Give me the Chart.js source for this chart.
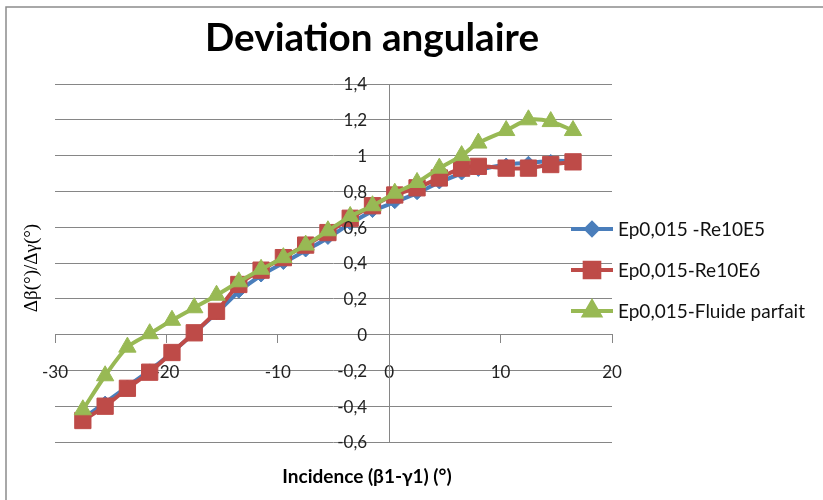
<!DOCTYPE html>
<html>
<head>
<meta charset="utf-8">
<script src="https://cdn.jsdelivr.net/npm/chart.js@4.4.1/dist/chart.umd.min.js"></script>
<style>
  html, body { margin: 0; padding: 0; background: #fff; }
  #wrap { position: relative; width: 823px; height: 500px; }
</style>
</head>
<body>
<div id="wrap"><canvas id="chart" width="823" height="500"></canvas></div>
<script>
// valeurs
const incidence = [-27.5, -25.5, -23.5, -21.5, -19.5, -17.5, -15.5, -13.5, -11.5, -9.5, -7.5, -5.5, -3.5, -1.5, 0.5, 2.5, 4.5, 6.5, 8, 10.5, 12.5, 14.5, 16.5];
const re10e5 = [-0.47, -0.38, -0.29, -0.20, -0.10, 0.01, 0.12, 0.24, 0.33, 0.40, 0.47, 0.54, 0.62, 0.69, 0.74, 0.79, 0.85, 0.90, 0.92, 0.95, 0.96, 0.97, 0.97];
const re10e6 = [-0.48, -0.40, -0.30, -0.21, -0.10, 0.01, 0.13, 0.28, 0.36, 0.43, 0.50, 0.57, 0.65, 0.72, 0.78, 0.82, 0.875, 0.93, 0.94, 0.93, 0.93, 0.95, 0.965];
const fluideParfait = [-0.42, -0.23, -0.07, 0.005, 0.08, 0.15, 0.22, 0.295, 0.365, 0.43, 0.50, 0.58, 0.66, 0.72, 0.79, 0.85, 0.93, 1.00, 1.07, 1.14, 1.20, 1.19, 1.14];
const seriesNames = ['Ep0,015 -Re10E5', 'Ep0,015-Re10E6', 'Ep0,015-Fluide parfait'];
const xRange = [-30, 20];
const yRange = [-0.6, 1.4];

const BLUE = '#4a7ebb', RED = '#be4b48', GREEN = '#98b954';
const GRID = '#868686';
const fmt = v => String(Math.round(v * 10) / 10).replace('.', ',');

const toPoints = arr => incidence.map((x, i) => ({ x: x, y: arr[i] }));

const series = [
    { label: seriesNames[0], data: toPoints(re10e5), color: BLUE, marker: 'rectRot', radius: 6.5, order: 3 },
    { label: seriesNames[1], data: toPoints(re10e6), color: RED, marker: 'rect', radius: 11.5, order: 2 },
    { label: seriesNames[2], data: toPoints(fluideParfait), color: GREEN, marker: 'triangle', radius: 10, order: 1 }
];

// titre, étiquettes de l'axe y, titres d'axes, légende et cadre
const decorPlugin = {
    id: 'decor',
    afterDraw(chart) {
        const ctx = chart.ctx;
        const ys = chart.scales.y, xs = chart.scales.x;
        ctx.save();
        ctx.strokeStyle = '#8c8c8c';
        ctx.lineWidth = 1.5;
        ctx.beginPath();
        ctx.moveTo(830, 7); ctx.lineTo(6, 7); ctx.lineTo(6, 505);
        ctx.stroke();

        // étiquettes y à gauche de l'axe placé en x = 0
        const x0 = xs.getPixelForValue(0);
        ctx.fillStyle = '#222';
        ctx.font = '17px Lato';
        ctx.textAlign = 'right';
        ctx.textBaseline = 'middle';
        ys.ticks.forEach(t => ctx.fillText(fmt(t.value), x0 - 22, ys.getPixelForValue(t.value) + 1));

        ctx.fillStyle = '#000';
        ctx.textAlign = 'center';
        ctx.font = 'bold 39px Lato';
        ctx.fillText('Deviation angulaire', 372, 38, 334);

        ctx.font = 'bold 19px Lato';
        ctx.fillText('Incidence (\u03b21-\u03b31) (\u00b0)', 367, 477, 190);

        ctx.save();
        ctx.translate(32, 268);
        ctx.rotate(-Math.PI / 2);
        ctx.font = '19px "Liberation Serif"';
        ctx.fillText('\u0394\u03b2(\u00b0)/\u0394\u03b3(\u00b0)', 0, 0);
        ctx.restore();

        const rows = [229, 270, 311];
        series.forEach((s, i) => {
            const y = rows[i];
            ctx.strokeStyle = s.color;
            ctx.lineWidth = 4;
            ctx.beginPath();
            ctx.moveTo(571, y); ctx.lineTo(613, y);
            ctx.stroke();
            ctx.fillStyle = s.color;
            ctx.strokeStyle = s.color;
            Chart.helpers.drawPoint(ctx, { pointStyle: s.marker, radius: s.radius * 0.9, rotation: 0, borderWidth: 1 }, 592, y);
            ctx.fillStyle = '#111';
            ctx.textAlign = 'left';
            ctx.font = '19px Lato';
            ctx.fillText(s.label, 618, y + 1);
        });
        ctx.restore();
    }
};

new Chart(document.getElementById('chart'), {
    type: 'line',
    data: {
        datasets: series.map(s => ({
            label: s.label,
            data: s.data,
            borderColor: s.color,
            backgroundColor: s.color,
            borderWidth: 4,
            pointStyle: s.marker,
            pointRadius: s.radius,
            pointBorderWidth: 1,
            pointBorderColor: s.color,
            tension: 0.3,
            fill: false,
            order: s.order
        }))
    },
    options: {
        responsive: false,
        animation: false,
        layout: { padding: { left: 55, right: 211, top: 84, bottom: 58 } },
        plugins: { legend: { display: false }, title: { display: false }, tooltip: { enabled: false } },
        scales: {
            x: {
                type: 'linear', position: { y: 0 }, min: xRange[0], max: xRange[1],
                ticks: { stepSize: 10, padding: 20, color: '#222', font: { family: 'Lato', size: 17 } },
                grid: { drawOnChartArea: false, drawTicks: true, tickLength: 8, tickColor: GRID, color: GRID },
                border: { display: true, color: GRID, width: 1 }
            },
            y: {
                type: 'linear', position: { x: 0 }, min: yRange[0], max: yRange[1],
                ticks: { stepSize: 0.2, display: false },
                grid: { color: GRID, drawTicks: false },
                border: { display: true, color: GRID, width: 1 }
            }
        }
    },
    plugins: [decorPlugin]
});
</script>
</body>
</html>
